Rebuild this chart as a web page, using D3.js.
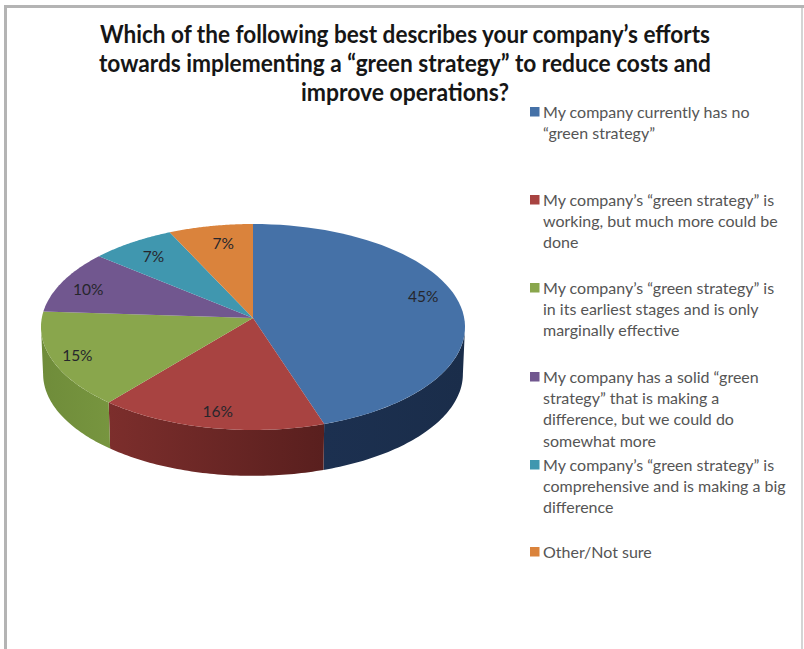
<!DOCTYPE html>
<html>
<head>
<meta charset="utf-8">
<script src="https://cdn.jsdelivr.net/npm/d3@7"></script>
<style>
  html, body { margin: 0; padding: 0; background: #fff; overflow: hidden; }
  svg { display: block; }
  text { font-family: Lato, "Open Sans", sans-serif; }
</style>
</head>
<body>
<svg id="chart" width="804" height="649"></svg>
<script>
// Survey answers, clockwise from twelve o'clock
const shares = [45, 16, 15, 10, 7, 7];
const legendLines = [
  ["My company currently has no", "\u201Cgreen strategy\u201D"],
  ["My company\u2019s \u201Cgreen strategy\u201D is", "working, but much more could be", "done"],
  ["My company\u2019s \u201Cgreen strategy\u201D is", "in its earliest stages and is only", "marginally effective"],
  ["My company has a solid \u201Cgreen", "strategy\u201D that is making a", "difference, but we could do", "somewhat more"],
  ["My company\u2019s \u201Cgreen strategy\u201D is", "comprehensive and is making a big", "difference"],
  ["Other/Not sure"]
];
const titleLines = [
  "Which of the following best describes your company\u2019s efforts",
  "towards implementing a \u201Cgreen strategy\u201D to reduce costs and",
  "improve operations?"
];
const topColors = ["#4571a7", "#a84341", "#89a64c", "#71578f", "#4097af", "#da833c"];
const sideLight = ["#1c3050", "#7c2e2c", "#6f8c3a", "#4a3a60", "#2a6474", "#92562a"];
const sideDark = ["#1a2d4a", "#591f1e", "#77953f", "#4a3a60", "#2a6474", "#92562a"];

const svg = d3.select("#chart");
const defs = svg.append("defs");

// Picture frame: left and top rules are heavier than the right one
svg.append("rect").attr("x", 4).attr("y", 5).attr("width", 3).attr("height", 644).attr("fill", "#b4b4b4");
svg.append("rect").attr("x", 4).attr("y", 5).attr("width", 800).attr("height", 3).attr("fill", "#b4b4b4");
svg.append("rect").attr("x", 801).attr("y", 8).attr("width", 2).attr("height", 641).attr("fill", "#d4d4d4");

// Title
const titleY = d3.scalePoint().domain(d3.range(titleLines.length)).range([43, 101]);
const titleWidths = [610, 612, 208];
svg.append("g").selectAll("text").data(titleLines).join("text")
  .attr("x", 405)
  .attr("y", (d, i) => titleY(i))
  .attr("text-anchor", "middle")
  .attr("font-size", 24)
  .attr("font-weight", 700)
  .attr("fill", "#161616")
  .attr("textLength", (d, i) => titleWidths[i])
  .attr("lengthAdjust", "spacingAndGlyphs")
  .text(d => d);

// Tilted disc: a perspective mapping of the unit circle onto the page
const centre = { x: 253, y: 318 };
const spreadX = 211.2, spreadY = 102.2, tilt = 0.0873;
const depth = 47, baseScale = 0.99;
function project(angle, radius, lower) {
  const u = radius * Math.sin(angle), v = radius * Math.cos(angle);
  const w = 1 + tilt * v, s = lower ? baseScale : 1;
  return [centre.x + s * spreadX * u / w, centre.y + (lower ? depth : 0) - s * spreadY * v / w];
}
const sweep = (a, b) => d3.range(0, 61).map(i => a + (b - a) * i / 60);
const outline = d3.line();

const slices = d3.pie().sort(null).value(d => d)(shares);

// Visible wall of the disc, from the right silhouette round to the left one
const wallFrom = 95 * Math.PI / 180, wallTo = 265 * Math.PI / 180;
slices.forEach((s, i) => {
  const a = Math.max(s.startAngle, wallFrom), b = Math.min(s.endAngle, wallTo);
  if (a >= b) return;
  const upper = sweep(a, b).map(t => project(t, 1, false));
  const lower = sweep(b, a).map(t => project(t, 1, true));
  const pts = upper.concat(lower);
  const id = "wall" + i;
  const gradient = defs.append("linearGradient").attr("id", id)
    .attr("gradientUnits", "userSpaceOnUse")
    .attr("x1", d3.min(pts, p => p[0])).attr("x2", d3.max(pts, p => p[0]))
    .attr("y1", 0).attr("y2", 0);
  gradient.append("stop").attr("offset", 0).attr("stop-color", sideLight[i]);
  gradient.append("stop").attr("offset", 1).attr("stop-color", sideDark[i]);
  svg.append("path").attr("d", outline(pts) + "Z").attr("fill", `url(#${id})`);
});

// Upper face
svg.append("g").selectAll("path").data(slices).join("path")
  .attr("d", s => outline([[centre.x, centre.y]].concat(sweep(s.startAngle, s.endAngle).map(t => project(t, 1, false)))) + "Z")
  .attr("fill", (s, i) => topColors[i]);

// Percentage labels, nudged off the slice bisector where the disc is foreshortened
const labelNudge = [[-1, -8], [0, 4], [-10, 3], [-6, 2], [2, 2], [6, 3]];
svg.append("g").selectAll("text").data(slices).join("text")
  .attr("x", (s, i) => project((s.startAngle + s.endAngle) / 2, 0.83, false)[0] + labelNudge[i][0])
  .attr("y", (s, i) => project((s.startAngle + s.endAngle) / 2, 0.83, false)[1] + labelNudge[i][1])
  .attr("dy", "0.35em")
  .attr("text-anchor", "middle")
  .attr("font-size", 15.5)
  .attr("fill", "#26262c")
  .text(s => s.value + "%");

// Legend
const legendTop = [112, 200, 288, 377, 465, 552];
const legendLeading = 21.3;
const legend = svg.append("g").selectAll("g").data(legendLines).join("g")
  .attr("transform", (d, i) => `translate(530,${legendTop[i]})`);
legend.append("rect").attr("x", 0).attr("y", -5).attr("width", 9.5).attr("height", 9.5)
  .attr("fill", (d, i) => topColors[i]);
legend.selectAll("text").data(d => d).join("text")
  .attr("x", 13)
  .attr("y", (d, i) => i * legendLeading)
  .attr("dy", "0.35em")
  .attr("font-size", 16)
  .attr("fill", "#555")
  .text(d => d);
</script>
</body>
</html>
